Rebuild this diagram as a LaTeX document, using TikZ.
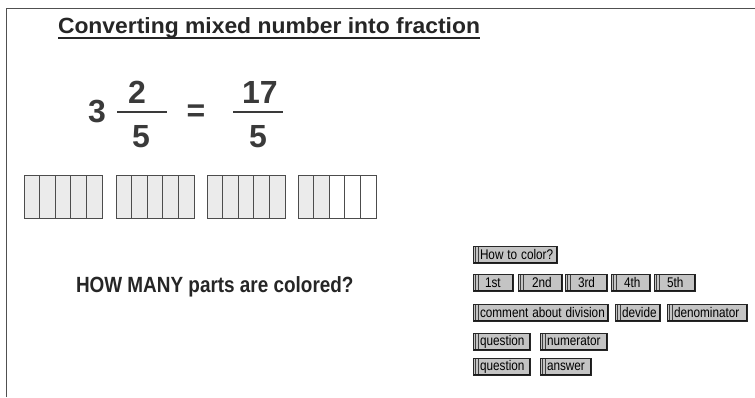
\documentclass[tikz,border=0pt]{standalone}
\usepackage{fontspec}
\setmainfont{Liberation Sans}
\definecolor{ink}{HTML}{3A3A3A}
\definecolor{btnfill}{HTML}{C4C4C4}
\definecolor{cellfill}{HTML}{EBEBEB}
\definecolor{framec}{HTML}{505050}
\begin{document}
\begin{tikzpicture}[x=1pt,y=-1pt,
  every node/.style={inner sep=0pt,outer sep=0pt},
  btn/.style={draw=black!85,line width=1pt,fill=btnfill,anchor=north west,
    minimum height=17pt,text width=#1pt,align=left,
    font=\fontsize{14}{14}\selectfont,
    path picture={
      \draw[black!75,line width=0.8pt]
      ([xshift=2.5pt]path picture bounding box.north west) -- ([xshift=2.5pt]path picture bounding box.south west);
      \draw[black!75,line width=0.8pt]
      ([xshift=5pt]path picture bounding box.north west) -- ([xshift=5pt]path picture bounding box.south west);
      \draw[black!90,line width=3pt]
      (path picture bounding box.south west) -- (path picture bounding box.south east) -- (path picture bounding box.north east);}},
  cellc/.style={draw=black!70,line width=1pt,fill=cellfill},
  cellw/.style={draw=black!70,line width=1pt,fill=white},
  digit/.style={text=ink,font=\fontsize{32}{32}\selectfont\bfseries},
  fbar/.style={draw=ink,line width=2.2pt}]
\useasboundingbox (0,0) rectangle (755,397);
\fill[white] (0,0) rectangle (755,397);
% frame
\coordinate (fA) at (6.5,397);
\coordinate (fB) at (6.5,8.5);
\coordinate (fC) at (755,8.5);
\draw[framec,line width=1.8pt] (fA) -- (fB) -- (fC);
% title
\node[anchor=base west,text=black!85] (title) at (58,33)
  {\scalebox{1.04}[1]{\fontsize{22}{22}\selectfont\bfseries Converting mixed number into fraction}};
\draw[black!85,line width=2pt] ([yshift=-5pt]title.base west) -- ([yshift=-5pt]title.base east);
% equation
\node[digit,anchor=base] (three) at (97,122) {3};
\node[digit,anchor=base] (n1) at (137,103) {2};
\node[digit,anchor=base] (d1) at (141,147) {5};
\coordinate (b1a) at (117,112); \coordinate (b1b) at (167,112);
\draw[fbar] (b1a) -- (b1b);
\node[digit,anchor=center] (eq) at (196,113) {=};
\node[digit,anchor=base] (n2) at (260,103) {17};
\node[digit,anchor=base] (d2) at (258,147) {5};
\coordinate (b2a) at (233,112); \coordinate (b2b) at (283,112);
\draw[fbar] (b2a) -- (b2b);
% bars
\foreach \g/\x in {0/24,1/116,2/207,3/298}{
  \foreach \i in {0,...,4}{
    \pgfmathtruncatemacro{\k}{\g*5+\i}
    \ifnum\k<17
      \path[cellc] (\x+\i*15.6,175) rectangle ++(15.6,43);
    \else
      \path[cellw] (\x+\i*15.6,175) rectangle ++(15.6,43);
    \fi
  }
}
% question
\node[anchor=base west,text=black!85] (q) at (76,292)
  {\scalebox{0.86}[1]{\fontsize{22}{22}\selectfont\bfseries HOW MANY parts are colored?}};
% buttons
\node[btn=84] (howto) at (473,246) {\hspace*{7pt}\scalebox{0.84}[1]{How to color?}};
\node[btn=40] (b1st) at (473,274) {\hspace*{12pt}\scalebox{0.84}[1]{1st}};
\node[btn=44] (b2nd) at (518,274) {\hspace*{14pt}\scalebox{0.84}[1]{2nd}};
\node[btn=42] (b3rd) at (565,274) {\hspace*{13pt}\scalebox{0.84}[1]{3rd}};
\node[btn=39] (b4th) at (611,274) {\hspace*{13pt}\scalebox{0.84}[1]{4th}};
\node[btn=41] (b5th) at (654,274) {\hspace*{13pt}\scalebox{0.84}[1]{5th}};
\node[btn=135] (comm) at (473,304) {\hspace*{7pt}\scalebox{0.84}[1]{comment about division}};
\node[btn=45] (devide) at (615,304) {\hspace*{7pt}\scalebox{0.84}[1]{devide}};
\node[btn=80] (denom) at (667,304) {\hspace*{7pt}\scalebox{0.84}[1]{denominator}};
\node[btn=57] (q1) at (473,333) {\hspace*{7pt}\scalebox{0.84}[1]{question}};
\node[btn=67] (numer) at (540,333) {\hspace*{7pt}\scalebox{0.84}[1]{numerator}};
\node[btn=57] (q2) at (473,358) {\hspace*{7pt}\scalebox{0.84}[1]{question}};
\node[btn=51] (answer) at (540,358) {\hspace*{7pt}\scalebox{0.84}[1]{answer}};
\end{tikzpicture}
\end{document}
